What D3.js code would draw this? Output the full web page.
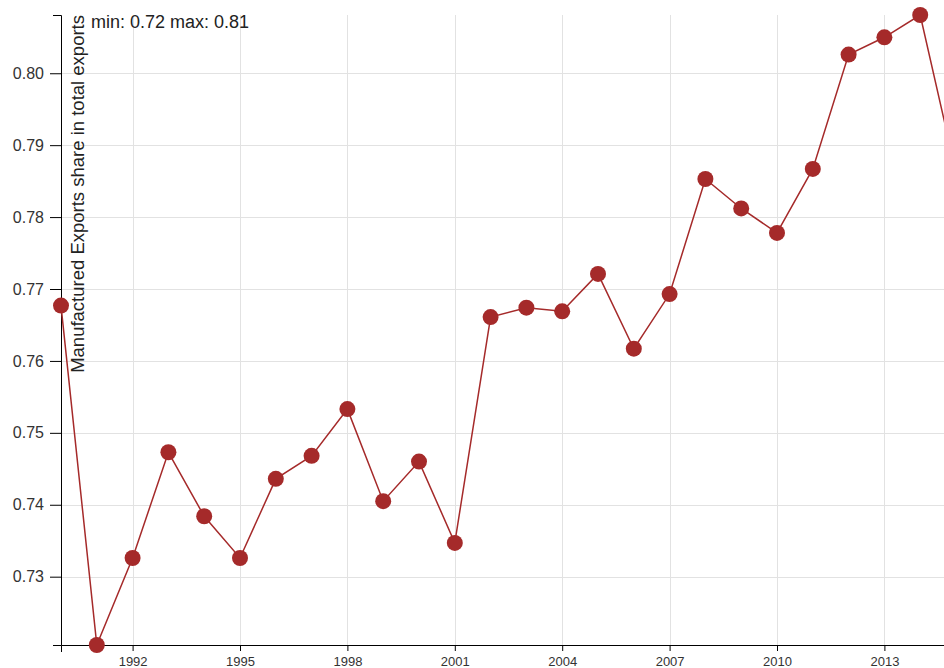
<!DOCTYPE html>
<html>
<head>
<meta charset="utf-8">
<script src="https://cdn.jsdelivr.net/npm/d3@7"></script>
<style>
  html, body { margin: 0; padding: 0; overflow: hidden; background: #fff; }
  svg { display: block; font-family: "Liberation Sans", Arial, sans-serif; }
  .grid line { stroke: #e2e2e2; stroke-width: 1; shape-rendering: crispEdges; }
  .grid .domain { display: none; }
  .axis path, .axis line { stroke: #000; }
  .axis text { fill: #333; }
</style>
</head>
<body>
<svg id="chart" width="1000" height="668"></svg>
<script>
const years = [1990,1991,1992,1993,1994,1995,1996,1997,1998,1999,2000,2001,2002,
               2003,2004,2005,2006,2007,2008,2009,2010,2011,2012,2013,2014,2015];
const shares = [0.7677,0.7205,0.7326,0.7473,0.7384,0.7326,0.7436,0.7468,0.7533,0.7405,
                0.7460,0.7347,0.7661,0.7674,0.7669,0.7721,0.7617,0.7693,0.7853,0.7812,
                0.7778,0.7867,0.8026,0.8050,0.8081,0.7862];
const yTickValues = [0.73,0.74,0.75,0.76,0.77,0.78,0.79,0.80];
const xTickValues = years.filter(y => y % 3 === 0);
const yLabel = "Manufactured Exports share in total exports";

const data = years.map((y, i) => ({year: y, value: shares[i]}));
const svg = d3.select("#chart");

const x = d3.scalePoint().domain(years).range([61, 956]);
const extent = d3.extent(shares);
const y = d3.scaleLinear().domain(extent).range([645, 15]);

// grid
svg.append("g").attr("class", "grid")
  .attr("transform", "translate(0,645)")
  .call(d3.axisBottom(x).tickValues(xTickValues).tickSize(-630).tickFormat(""));
svg.append("g").attr("class", "grid")
  .attr("transform", "translate(61,0)")
  .call(d3.axisLeft(y).tickValues(yTickValues).tickSize(-1000).tickFormat(""));

// axes
const xAxis = svg.append("g").attr("class", "axis")
  .attr("transform", "translate(0,645)")
  .call(d3.axisBottom(x).tickValues(xTickValues).tickSizeInner(6).tickSizeOuter(7).tickPadding(6));
xAxis.selectAll("text").style("font-size", "13px");

const yAxis = svg.append("g").attr("class", "axis")
  .attr("transform", "translate(61,0)")
  .call(d3.axisLeft(y).tickValues(yTickValues).tickFormat(d3.format(".2f"))
        .tickSizeInner(11).tickSizeOuter(8).tickPadding(6));
yAxis.selectAll("text").style("font-size", "16px");

// y label
svg.append("text")
  .attr("transform", "translate(83.5,15) rotate(-90)")
  .attr("text-anchor", "end")
  .style("font-size", "18.5px")
  .style("fill", "#222")
  .text(yLabel);

// min/max
const f = d3.format(".2f");
svg.append("text")
  .attr("x", 91).attr("y", 28)
  .style("font-size", "18px")
  .style("fill", "#222")
  .text("min: " + f(extent[0]) + " max: " + f(extent[1]));

// line
const line = d3.line().x(d => x(d.year)).y(d => y(d.value));
svg.append("path").datum(data)
  .attr("fill", "none")
  .attr("stroke", "brown")
  .attr("stroke-width", 1.5)
  .attr("d", line);

svg.selectAll("circle.pt").data(data).enter().append("circle")
  .attr("class", "pt")
  .attr("cx", d => x(d.year))
  .attr("cy", d => y(d.value))
  .attr("r", 8)
  .attr("fill", "brown");
</script>
</body>
</html>
